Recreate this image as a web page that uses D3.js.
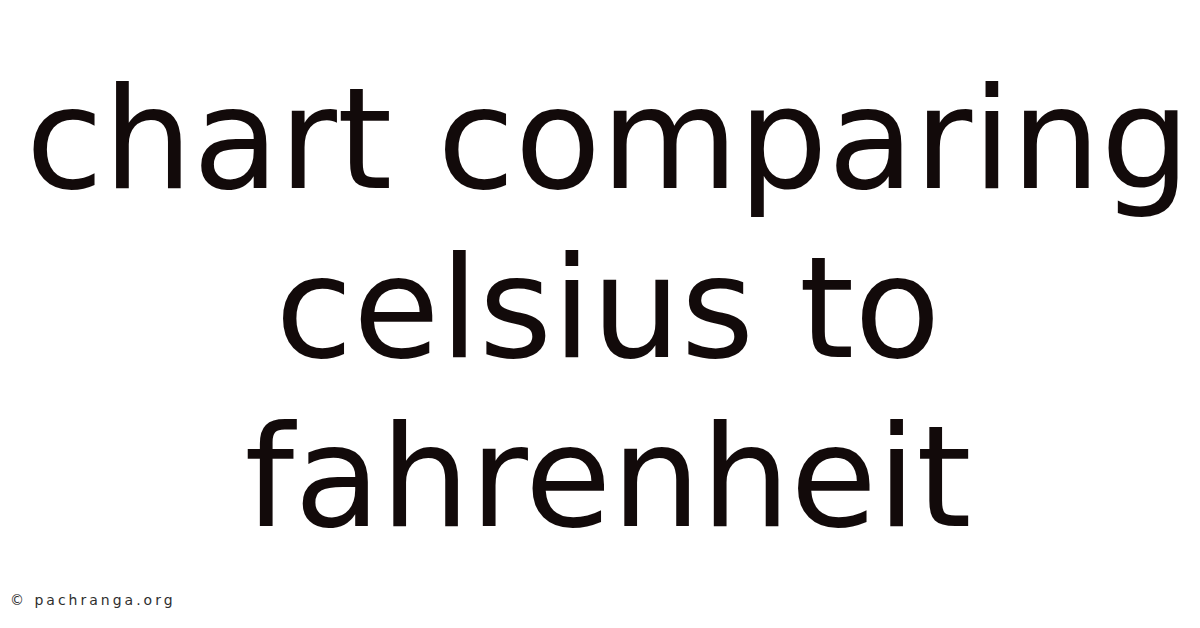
<!DOCTYPE html>
<html>
<head>
<meta charset="utf-8">
<script src="https://cdn.jsdelivr.net/npm/d3@7"></script>
<style>
  html, body { margin: 0; padding: 0; background: #ffffff; }
</style>
</head>
<body>
<div class="vis-title"></div>
<script>
// text content of the card
const titleLines = ['chart comparing', 'celsius to', 'fahrenheit'];
const creditText = ['\u00A9 pachranga.org'];

const width = 1200;
const height = 628;

const svg = d3
  .select('.vis-title')
  .append('svg')
  .attr('width', width)
  .attr('height', height);

svg.append('rect').attr('width', width).attr('height', height).attr('fill', '#ffffff');

// one band per line, baselines spaced evenly
const y = d3.scalePoint().domain(d3.range(titleLines.length)).range([188, 526]);

svg
  .selectAll('.line')
  .data(titleLines)
  .enter()
  .append('text')
  .attr('class', 'line')
  .attr('x', width / 2 + 8)
  .attr('y', (d, i) => y(i))
  .attr('text-anchor', 'middle')
  .style('font-family', '"DejaVu Sans", sans-serif')
  .style('font-size', '141px')
  .attr('fill', '#120a0a')
  .text((d) => d);

svg
  .selectAll('.credit')
  .data(creditText)
  .enter()
  .append('text')
  .attr('class', 'credit')
  .attr('x', 10)
  .attr('y', 605)
  .style('font-family', '"DejaVu Sans", sans-serif')
  .style('font-size', '14px')
  .style('letter-spacing', '3px')
  .attr('fill', '#2e2e2e')
  .text((d) => d);
</script>
</body>
</html>
